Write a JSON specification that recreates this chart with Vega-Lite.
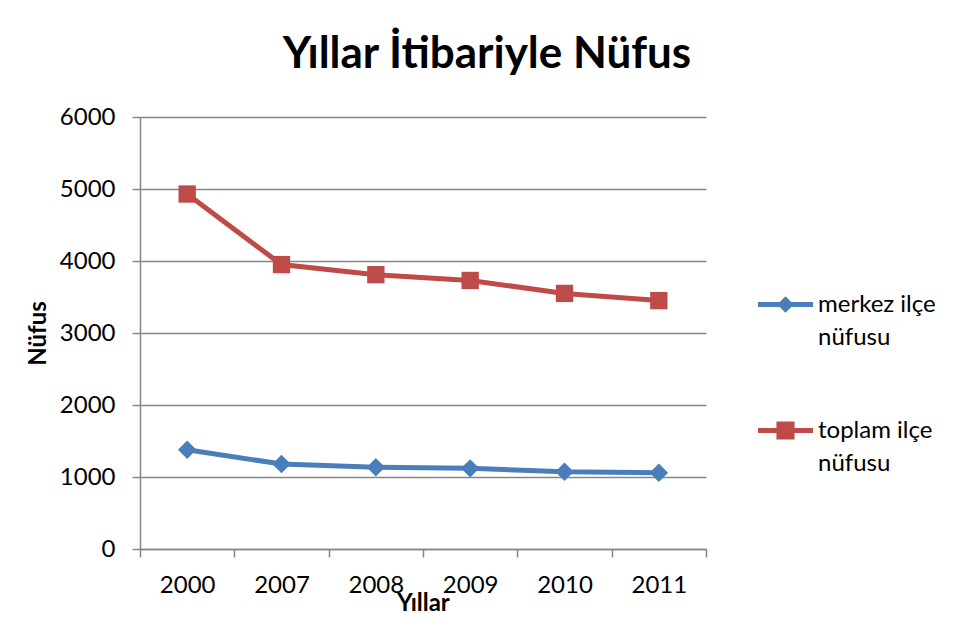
{
  "$schema": "https://vega.github.io/schema/vega-lite/v6.json",
  "width": 566,
  "height": 432,
  "autosize": {"type": "none"},
  "padding": {"left": 140, "top": 117, "right": 253, "bottom": 70},
  "background": "white",
  "title": {"text": "Yıllar İtibariyle Nüfus", "font": "Lato", "fontSize": 44, "fontWeight": "bold", "color": "black", "anchor": "middle", "dx": 64, "offset": 28},
  "data": {"values": [
    {"yil": "2000", "seri": "merkez ilçe nüfusu", "nufus": 1378},
    {"yil": "2007", "seri": "merkez ilçe nüfusu", "nufus": 1180},
    {"yil": "2008", "seri": "merkez ilçe nüfusu", "nufus": 1136},
    {"yil": "2009", "seri": "merkez ilçe nüfusu", "nufus": 1120},
    {"yil": "2010", "seri": "merkez ilçe nüfusu", "nufus": 1072},
    {"yil": "2011", "seri": "merkez ilçe nüfusu", "nufus": 1058},
    {"yil": "2000", "seri": "toplam ilçe nüfusu", "nufus": 4930},
    {"yil": "2007", "seri": "toplam ilçe nüfusu", "nufus": 3950},
    {"yil": "2008", "seri": "toplam ilçe nüfusu", "nufus": 3810},
    {"yil": "2009", "seri": "toplam ilçe nüfusu", "nufus": 3730},
    {"yil": "2010", "seri": "toplam ilçe nüfusu", "nufus": 3550},
    {"yil": "2011", "seri": "toplam ilçe nüfusu", "nufus": 3450}
  ]},
  "encoding": {
    "x": {
      "field": "yil", "type": "ordinal", "sort": null,
      "scale": {"type": "band", "paddingInner": 0, "paddingOuter": 0},
      "axis": {
        "title": "Yıllar", "titleFont": "Lato", "titleFontSize": 24, "titleFontWeight": "bold", "titleColor": "black", "titlePadding": -6,
        "labelFont": "Lato", "labelFontSize": 24, "labelColor": "black", "labelAngle": 0, "labelPadding": 16,
        "tickBand": "extent", "tickSize": 8, "tickColor": "#868686", "tickWidth": 1.5,
        "domainColor": "#868686", "domainWidth": 1.5, "grid": false
      }
    },
    "y": {
      "field": "nufus", "type": "quantitative",
      "scale": {"domain": [0, 6000], "nice": false},
      "axis": {
        "title": "Nüfus", "titleFont": "Lato", "titleFontSize": 24, "titleFontWeight": "bold", "titleColor": "black", "titlePadding": 9,
        "values": [0, 1000, 2000, 3000, 4000, 5000, 6000], "format": "d",
        "labelFont": "Lato", "labelFontSize": 24, "labelColor": "black", "labelPadding": 17,
        "tickSize": 8, "tickColor": "#868686", "tickWidth": 1.5,
        "domainColor": "#868686", "domainWidth": 1.5,
        "grid": true, "gridColor": "#868686", "gridWidth": 1.5
      }
    },
    "color": {
      "field": "seri", "type": "nominal",
      "scale": {"domain": ["merkez ilçe nüfusu", "toplam ilçe nüfusu"], "range": ["#4A7EBB", "#BE4B48"]},
      "legend": {
        "orient": "none", "legendX": 618, "legendY": 160, "title": null, "padding": 0,
        "labelFont": "Lato", "labelFontSize": 24, "labelColor": "black", "labelOffset": 5, "rowPadding": 53,
        "symbolSize": 3025,
        "labelExpr": "datum.label == 'merkez ilçe nüfusu' ? ['merkez ilçe', 'nüfusu'] : ['toplam ilçe', 'nüfusu']",
        "encode": {
          "symbols": {"update": {
            "shape": {"signal": "datum.value == 'merkez ilçe nüfusu' ? 'M-1,-0.09H1V0.09H-1Z M0,-0.3L0.3,0L0,0.3L-0.3,0Z' : 'M-1,-0.09H1V0.09H-1Z M-0.33,-0.33H0.33V0.33H-0.33Z'"},
            "size": {"value": 3025},
            "fill": {"scale": "color", "field": "value"},
            "fillOpacity": {"value": 1},
            "strokeWidth": {"value": 0},
            "opacity": {"value": 1}
          }},
          "labels": {"update": {"lineHeight": {"value": 33}}}
        }
      }
    }
  },
  "layer": [
    {"mark": {"type": "line", "strokeWidth": 5}},
    {
      "transform": [{"filter": "datum.seri == 'merkez ilçe nüfusu'"}],
      "mark": {"type": "point", "shape": "diamond", "filled": true, "opacity": 1, "size": 340}
    },
    {
      "transform": [{"filter": "datum.seri == 'toplam ilçe nüfusu'"}],
      "mark": {"type": "point", "shape": "square", "filled": true, "opacity": 1, "size": 300}
    }
  ],
  "config": {"view": {"stroke": null}}
}
